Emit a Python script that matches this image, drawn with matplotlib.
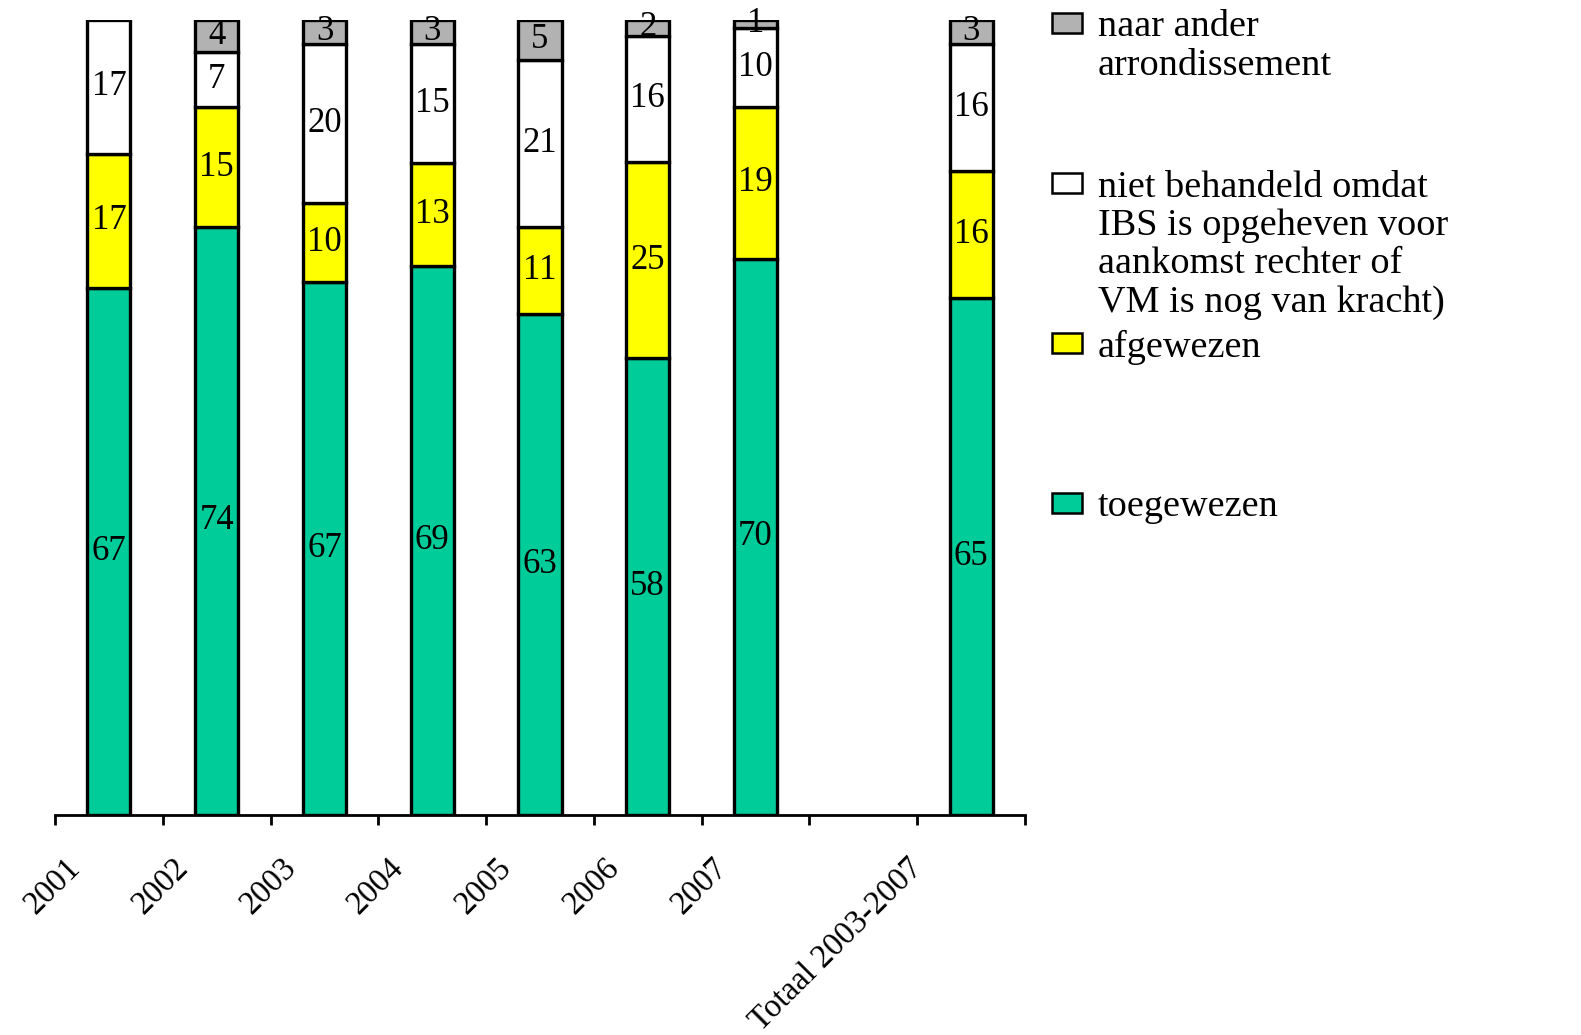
"""100% stacked bars: afhandeling IBS-verzoeken per jaar, met totaal 2003-2007."""

import matplotlib
matplotlib.use("Agg")
import matplotlib.pyplot as plt
import matplotlib.transforms as mtransforms
from matplotlib.patches import Rectangle
import numpy as np

# ---------------------------------------------------------------------------
# Data
# ---------------------------------------------------------------------------

CATEGORIES = ["2001", "2002", "2003", "2004", "2005", "2006", "2007", "",
              "Totaal 2003-2007"]

TOEGEWEZEN     = [67, 74, 67, 69, 63, 58, 70, 0, 65]
AFGEWEZEN      = [17, 15, 10, 13, 11, 25, 19, 0, 16]
NIET_BEHANDELD = [17,  7, 20, 15, 21, 16, 10, 0, 16]
ANDER_ARROND   = [ 0,  4,  3,  3,  5,  2,  1, 0,  3]

SERIES_LABELS = [
    "toegewezen",
    "afgewezen",
    "niet behandeld omdat\nIBS is opgeheven voor\naankomst rechter of\nVM is nog van kracht)",
    "naar ander\narrondissement",
]
SERIES_VALUES = [TOEGEWEZEN, AFGEWEZEN, NIET_BEHANDELD, ANDER_ARROND]
SERIES_COLORS = ["#00CC99", "#FFFF00", "#FFFFFF", "#B2B2B2"]

# ---------------------------------------------------------------------------
# Style
# ---------------------------------------------------------------------------

W_PX, H_PX = 1581, 1035
DPI = 100
FONT = "Liberation Serif"
BAR_WIDTH = 0.40
EDGE_LW = 2.4
LEG_FS = 27.5


def fx(x):
    return x / W_PX


def fy(y):
    return 1 - y / H_PX


plt.rcParams["font.family"] = [FONT, "DejaVu Serif"]

fig = plt.figure(figsize=(W_PX / DPI, H_PX / DPI), dpi=DPI)
fig.patch.set_facecolor("white")
ax = fig.add_axes([fx(55), fy(815), fx(1025) - fx(55), fy(20) - fy(815)])
ax.set_facecolor("none")

values = np.array(SERIES_VALUES, dtype=float)
totals = values.sum(axis=0)
x = np.arange(len(CATEGORIES))
has_data = totals > 0
shares = np.zeros_like(values)
shares[:, has_data] = values[:, has_data] / totals[has_data] * 100

bottom = np.zeros(len(CATEGORIES))
for vals, share, color in zip(values, shares, SERIES_COLORS):
    mask = share > 0
    ax.bar(x[mask], share[mask], bottom=bottom[mask], width=BAR_WIDTH,
           color=color, edgecolor="black", linewidth=EDGE_LW, zorder=2)
    for xi, v, s, b in zip(x[mask], vals[mask], share[mask], bottom[mask]):
        ax.text(xi, b + s / 2, f"{int(v)}", ha="center", va="center",
                fontsize=25, color="black", zorder=3)
    bottom += share

ax.set_xlim(-0.5, len(CATEGORIES) - 0.5)
ax.set_ylim(0, 100)
ax.set_yticks([])
for spine in ("top", "right", "left"):
    ax.spines[spine].set_visible(False)
ax.spines["bottom"].set_linewidth(2.0)
ax.spines["bottom"].set_zorder(4)

# category labels sit on the tick marks between the bars (Excel style)
ticks = np.arange(-0.5, len(CATEGORIES), 1.0)
ax.set_xticks(ticks)
ax.set_xticklabels(CATEGORIES + [""], rotation=45, ha="right", va="top",
                   rotation_mode="anchor", fontsize=23.5)
ax.tick_params(axis="x", direction="out", length=7, width=2.0, pad=20)
for lbl in ax.get_xticklabels():
    dx = 10 if len(lbl.get_text()) <= 4 else -10
    offset = mtransforms.ScaledTranslation(dx / DPI, 0, fig.dpi_scale_trans)
    lbl.set_transform(lbl.get_transform() + offset)

# ---- Legend (manual, Excel layout: top item first) ----
LEG_TOP = 23
LEG_STEP = 160
for i, (label, color) in enumerate(zip(SERIES_LABELS[::-1], SERIES_COLORS[::-1])):
    yc = LEG_TOP + i * LEG_STEP
    fig.add_artist(Rectangle((fx(1052), fy(yc + 10)), fx(30), 20 / H_PX,
                             transform=fig.transFigure, facecolor=color,
                             edgecolor="black", linewidth=1.8))
    fig.text(fx(1098), fy(yc - 13), label, ha="left", va="top",
             fontsize=LEG_FS, linespacing=1.15, color="black")

fig.savefig("out.png", dpi=DPI, facecolor="white")
